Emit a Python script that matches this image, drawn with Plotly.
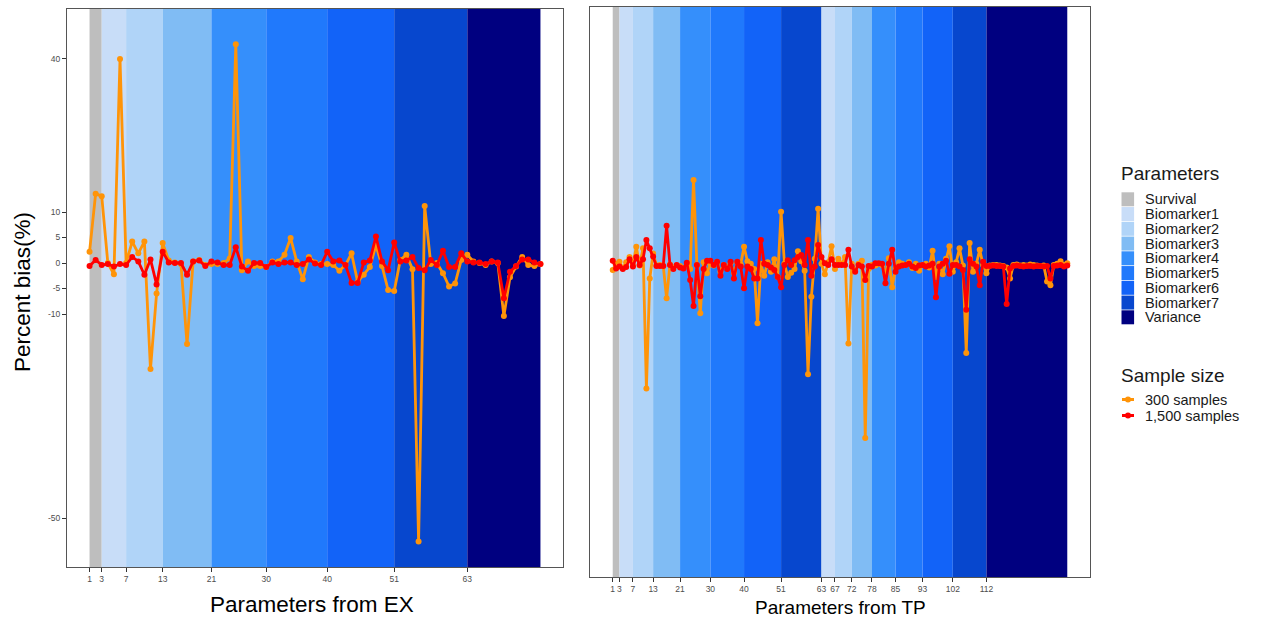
import plotly.graph_objects as go

# ---------------- data ----------------
ex_params = list(range(1, 76))
ex_300 = [2.2, 13.6, 13.1, 0.0, -2.2, 40.0, 0.0, 4.2, 1.9, 4.2,
          -20.8, -6.0, 3.9, 0.5, 0.1, -0.2, -15.9, 0.3, 0.6, -0.4,
          -0.2, -0.2, 0.0, 0.9, 42.9, -1.4, 0.3, -0.6, -0.6, -0.8,
          0.3, 0.3, 1.6, 4.9, 0.3, -3.2, 1.2, 0.1, -0.2, -0.2,
          -0.4, -1.5, -0.4, 1.9, -3.7, -2.3, -0.8, 3.5, -0.6, -5.3,
          -5.5, 0.6, 1.6, -1.2, -54.6, 11.2, -0.2, 0.0, -2.0, -4.6,
          -4.0, 0.6, 1.6, 0.3, 0.0, -0.4, 0.3, 0.0, -10.4, -2.8,
          -0.7, 1.2, -0.4, -0.6, -0.2]
ex_1500 = [-0.6, 0.6, -0.4, -0.2, -0.7, -0.2, -0.4, 1.2, 0.3, -2.3,
           0.7, -4.2, 2.2, 0.1, 0.0, 0.0, -2.3, 0.3, 0.5, -0.6,
           0.3, 0.1, -0.4, -0.4, 3.1, -0.7, -1.5, 0.0, 0.0, -0.8,
           0.1, -0.2, 0.1, 0.1, -0.4, -0.2, 0.7, -0.1, -0.4, 2.2,
           0.3, 0.5, -0.4, -3.9, -3.9, 0.1, 0.5, 5.2, 0.3, -1.4,
           4.0, 0.3, 0.5, 1.2, -1.0, -1.4, 0.6, -0.4, 2.4, -0.8,
           -0.8, 1.9, 0.3, 0.1, 0.1, -0.2, 0.3, 0.1, -6.9, -1.7,
           -0.6, 0.7, 0.7, 0.1, -0.2]

tp_params = list(range(1, 137))
tp_300 = [-0.7, 0.5, 0.9, -0.3, 0.8, 1.8, 0.3, 3.8, 0.2, 3.5,
          -23.4, -2.3, 2.5, 0.2, 0.3, 0.1, -6.1, 0.4, -0.2, 0.2,
          0.1, -0.3, 0.5, -0.5, 16.6, 0.3, -9.0, 0.8, -1.3, 0.5,
          0.2, 0.8, -1.0, 0.3, -0.2, 0.6, -1.2, 0.8, 0.4, 3.8,
          1.0, 0.5, -0.5, -10.9, 0.5, -1.8, 0.8, -1.0, 1.4, -2.0,
          10.5, 0.5, -2.0, -1.2, -0.5, 2.9, 1.0, -0.8, -20.7, -5.8,
          1.5, 11.1, 0.5, -1.5, 0.8, 3.9, -0.5, 1.5, 0.5, 1.8,
          -14.8, 0.5, -0.8, 0.5, 1.1, -32.9, -0.5, 0.3, 0.2, 0.5,
          0.3, -1.5, 1.6, -4.0, -0.3, 0.8, 0.5, 0.3, 0.8, -0.3,
          0.5, -0.8, 0.3, 0.5, -0.2, 3.0, -2.0, 0.5, -1.5, 1.5,
          3.9, -1.0, 0.8, 3.5, 0.2, -16.6, 4.5, -1.0, 0.5, 3.2,
          0.3, -1.3, 0.2, 0.3, 0.3, 0.2, 0.1, -0.2, -2.3, 0.3,
          0.4, 0.2, 0.3, 0.2, 0.4, 0.3, 0.2, 0.1, 0.2, -2.9,
          -3.6, 0.3, 0.5, 1.0, 0.3, 0.6]
tp_1500 = [1.1, -0.4, 0.0, -0.5, -0.1, 1.4, 0.0, 1.8, 0.3, 1.4,
           5.1, 3.5, 1.9, 0.1, 0.1, 0.1, 7.8, 0.3, -0.5, 0.3,
           -0.2, -0.4, 0.7, -2.6, -7.6, 0.3, -5.7, -0.5, 1.1, 1.1,
           0.3, 0.9, -1.8, 0.3, -0.5, 0.9, -2.3, 0.9, 0.0, -4.2,
           0.0, -0.5, -2.3, -2.3, 5.1, 0.5, 0.3, -0.2, -0.7, -2.0,
           -4.0, 0.3, 1.2, 0.3, 1.2, 1.8, 2.2, 0.3, 5.1, -1.8,
           0.0, 4.1, 1.8, 0.6, 0.3, 1.4, 0.3, 0.3, 0.3, 0.3,
           3.2, 0.0, -1.0, 0.3, 0.0, -2.6, 0.1, 0.0, 0.6, 0.6,
           0.5, -3.2, 0.5, 3.2, -1.0, 0.0, 0.2, 0.3, 0.5, 0.0,
           -0.3, 0.2, 0.3, 0.0, 0.2, 0.5, -5.9, 0.0, 0.5, 1.1,
           -1.4, 0.3, 0.3, 0.0, -0.7, -8.3, 1.4, 0.5, 0.0, -3.6,
           0.9, 0.1, 0.1, 0.2, 0.1, 0.1, 0.0, -7.2, -0.4, 0.1,
           0.2, 0.1, 0.0, 0.1, 0.1, 0.0, 0.1, 0.1, 0.0, 0.1,
           -2.3, 0.1, 0.2, 0.3, 0.0, 0.2]

param_names = ["Survival", "Biomarker1", "Biomarker2", "Biomarker3", "Biomarker4",
               "Biomarker5", "Biomarker6", "Biomarker7", "Variance"]
param_colors = ["#BEBEBE", "#C8DDF8", "#B0D4F8", "#80BCF4", "#358FFB",
                "#2079FC", "#1263F8", "#0747CE", "#000080"]

ex_bounds = [1, 3, 7, 13, 21, 30, 40, 51, 63, 75]
ex_groups = ["Survival", "Biomarker1", "Biomarker2", "Biomarker3", "Biomarker4",
             "Biomarker5", "Biomarker6", "Biomarker7", "Variance"]
tp_bounds = [1, 3, 7, 13, 21, 30, 40, 51, 63, 67, 72, 78, 85, 93, 102, 112, 136]
tp_groups = ["Survival", "Biomarker1", "Biomarker2", "Biomarker3", "Biomarker4",
             "Biomarker5", "Biomarker6", "Biomarker7",
             "Biomarker1", "Biomarker2", "Biomarker3", "Biomarker4",
             "Biomarker5", "Biomarker6", "Biomarker7", "Variance"]

ex_ticks = [1, 3, 7, 13, 21, 30, 40, 51, 63]
tp_ticks = [1, 3, 7, 13, 21, 30, 40, 51, 63, 67, 72, 78, 85, 93, 102, 112]
y_ticks = [-50, -10, -5, 0, 5, 10, 40]
y_ticklabels = ["-50", "-10", "-5", "0", "5", "10", "40"]

series_names = ["300 samples", "1,500 samples"]
series_colors = ["#FF9408", "#FF0000"]

# ---------------- figure ----------------
W, H = 1261, 620
FONT = "Liberation Sans, Arial, sans-serif"
color_of = dict(zip(param_names, param_colors))


def px(x):
    return x / W


def py(y):
    return 1 - y / H


fig = go.Figure()

for xa, ya, xs, a, b in [("x", "y", ex_params, ex_300, ex_1500),
                          ("x2", "y2", tp_params, tp_300, tp_1500)]:
    for vals, col, nm in [(a, series_colors[0], series_names[0]),
                          (b, series_colors[1], series_names[1])]:
        fig.add_trace(go.Scatter(x=xs, y=vals, xaxis=xa, yaxis=ya, mode="lines+markers",
                                 line=dict(color=col, width=2.8),
                                 marker=dict(color=col, size=6), name=nm,
                                 showlegend=False, hoverinfo="x+y"))

shapes = []
for xref, yref, bounds, groups in [("x", "y domain", ex_bounds, ex_groups),
                                   ("x2", "y2 domain", tp_bounds, tp_groups)]:
    for i, g in enumerate(groups):
        shapes.append(dict(type="rect", xref=xref, yref=yref, x0=bounds[i], x1=bounds[i + 1],
                           y0=0, y1=1, fillcolor=color_of[g], line=dict(width=0), layer="below"))

# manual legend (keys)
annotations = []
leg_x0 = 1121.5
row_h = 14.75
first_y = 199.3
for k, (nm, col) in enumerate(zip(param_names, param_colors)):
    yc = first_y + k * row_h
    shapes.append(dict(type="rect", xref="paper", yref="paper",
                       x0=px(leg_x0), x1=px(leg_x0 + 12.6),
                       y0=py(yc + 7.0), y1=py(yc - 7.0),
                       fillcolor=col, line=dict(width=0)))
    annotations.append(dict(text=nm, xref="paper", yref="paper", x=px(1143), y=py(yc),
                            xanchor="left", yanchor="middle", showarrow=False,
                            font=dict(family=FONT, size=14.5, color="#1a1a1a")))
annotations.append(dict(text="Parameters", xref="paper", yref="paper", x=px(1119), y=py(173),
                        xanchor="left", yanchor="middle", showarrow=False,
                        font=dict(family=FONT, size=19, color="#1a1a1a")))
annotations.append(dict(text="Sample size", xref="paper", yref="paper", x=px(1119), y=py(375),
                        xanchor="left", yanchor="middle", showarrow=False,
                        font=dict(family=FONT, size=19, color="#1a1a1a")))
for k, (nm, col) in enumerate(zip(series_names, series_colors)):
    yc = 399.5 + k * 16
    shapes.append(dict(type="line", xref="paper", yref="paper",
                       x0=px(1122), x1=px(1134), y0=py(yc), y1=py(yc),
                       line=dict(color=col, width=3)))
    shapes.append(dict(type="circle", xref="paper", yref="paper",
                       x0=px(1125), x1=px(1131), y0=py(yc + 3), y1=py(yc - 3),
                       fillcolor=col, line=dict(width=0)))
    annotations.append(dict(text=nm, xref="paper", yref="paper", x=px(1143), y=py(yc),
                            xanchor="left", yanchor="middle", showarrow=False,
                            font=dict(family=FONT, size=14.5, color="#1a1a1a")))

# axis titles
annotations.append(dict(text="Parameters from EX", xref="paper", yref="paper", x=px(312), y=py(604),
                        xanchor="center", yanchor="middle", showarrow=False,
                        font=dict(family=FONT, size=22.5, color="#000000")))
annotations.append(dict(text="Parameters from TP", xref="paper", yref="paper", x=px(840), y=py(607),
                        xanchor="center", yanchor="middle", showarrow=False,
                        font=dict(family=FONT, size=19, color="#000000")))
annotations.append(dict(text="Percent bias(%)", xref="paper", yref="paper", x=px(22), y=py(292),
                        xanchor="center", yanchor="middle", showarrow=False, textangle=-90,
                        font=dict(family=FONT, size=22.5, color="#000000")))

axis_common = dict(showgrid=False, zeroline=False, showline=True, mirror=True,
                   linecolor="#555555", linewidth=1, ticks="outside", ticklen=4,
                   tickcolor="#333333", tickwidth=1, tickangle=0,
                   tickfont=dict(family=FONT, size=8.5, color="#4D4D4D"))

fig.update_layout(
    width=W, height=H, margin=dict(l=0, r=0, t=0, b=0),
    paper_bgcolor="white", plot_bgcolor="white", showlegend=False,
    shapes=shapes, annotations=annotations,
    xaxis=dict(domain=[px(67), px(563)], range=[-2.7, 78.7], anchor="y",
               tickmode="array", tickvals=ex_ticks, ticktext=[str(t) for t in ex_ticks],
               **axis_common),
    yaxis=dict(domain=[py(567), py(9)], range=[-59.6, 49.8], anchor="x",
               tickmode="array", tickvals=y_ticks, ticktext=y_ticklabels, **axis_common),
    xaxis2=dict(domain=[px(590), px(1090)], range=[-5.75, 142.75], anchor="y2",
                tickmode="array", tickvals=tp_ticks, ticktext=[str(t) for t in tp_ticks],
                **axis_common),
    yaxis2=dict(domain=[py(577), py(7)], range=[-59.6, 49.8], anchor="x2",
                showticklabels=False, **{k: v for k, v in axis_common.items() if k != "ticks"},
                ticks=""),
)

fig.write_html("out.html", config={"displayModeBar": False},
               post_script="document.body.style.margin='0';")
